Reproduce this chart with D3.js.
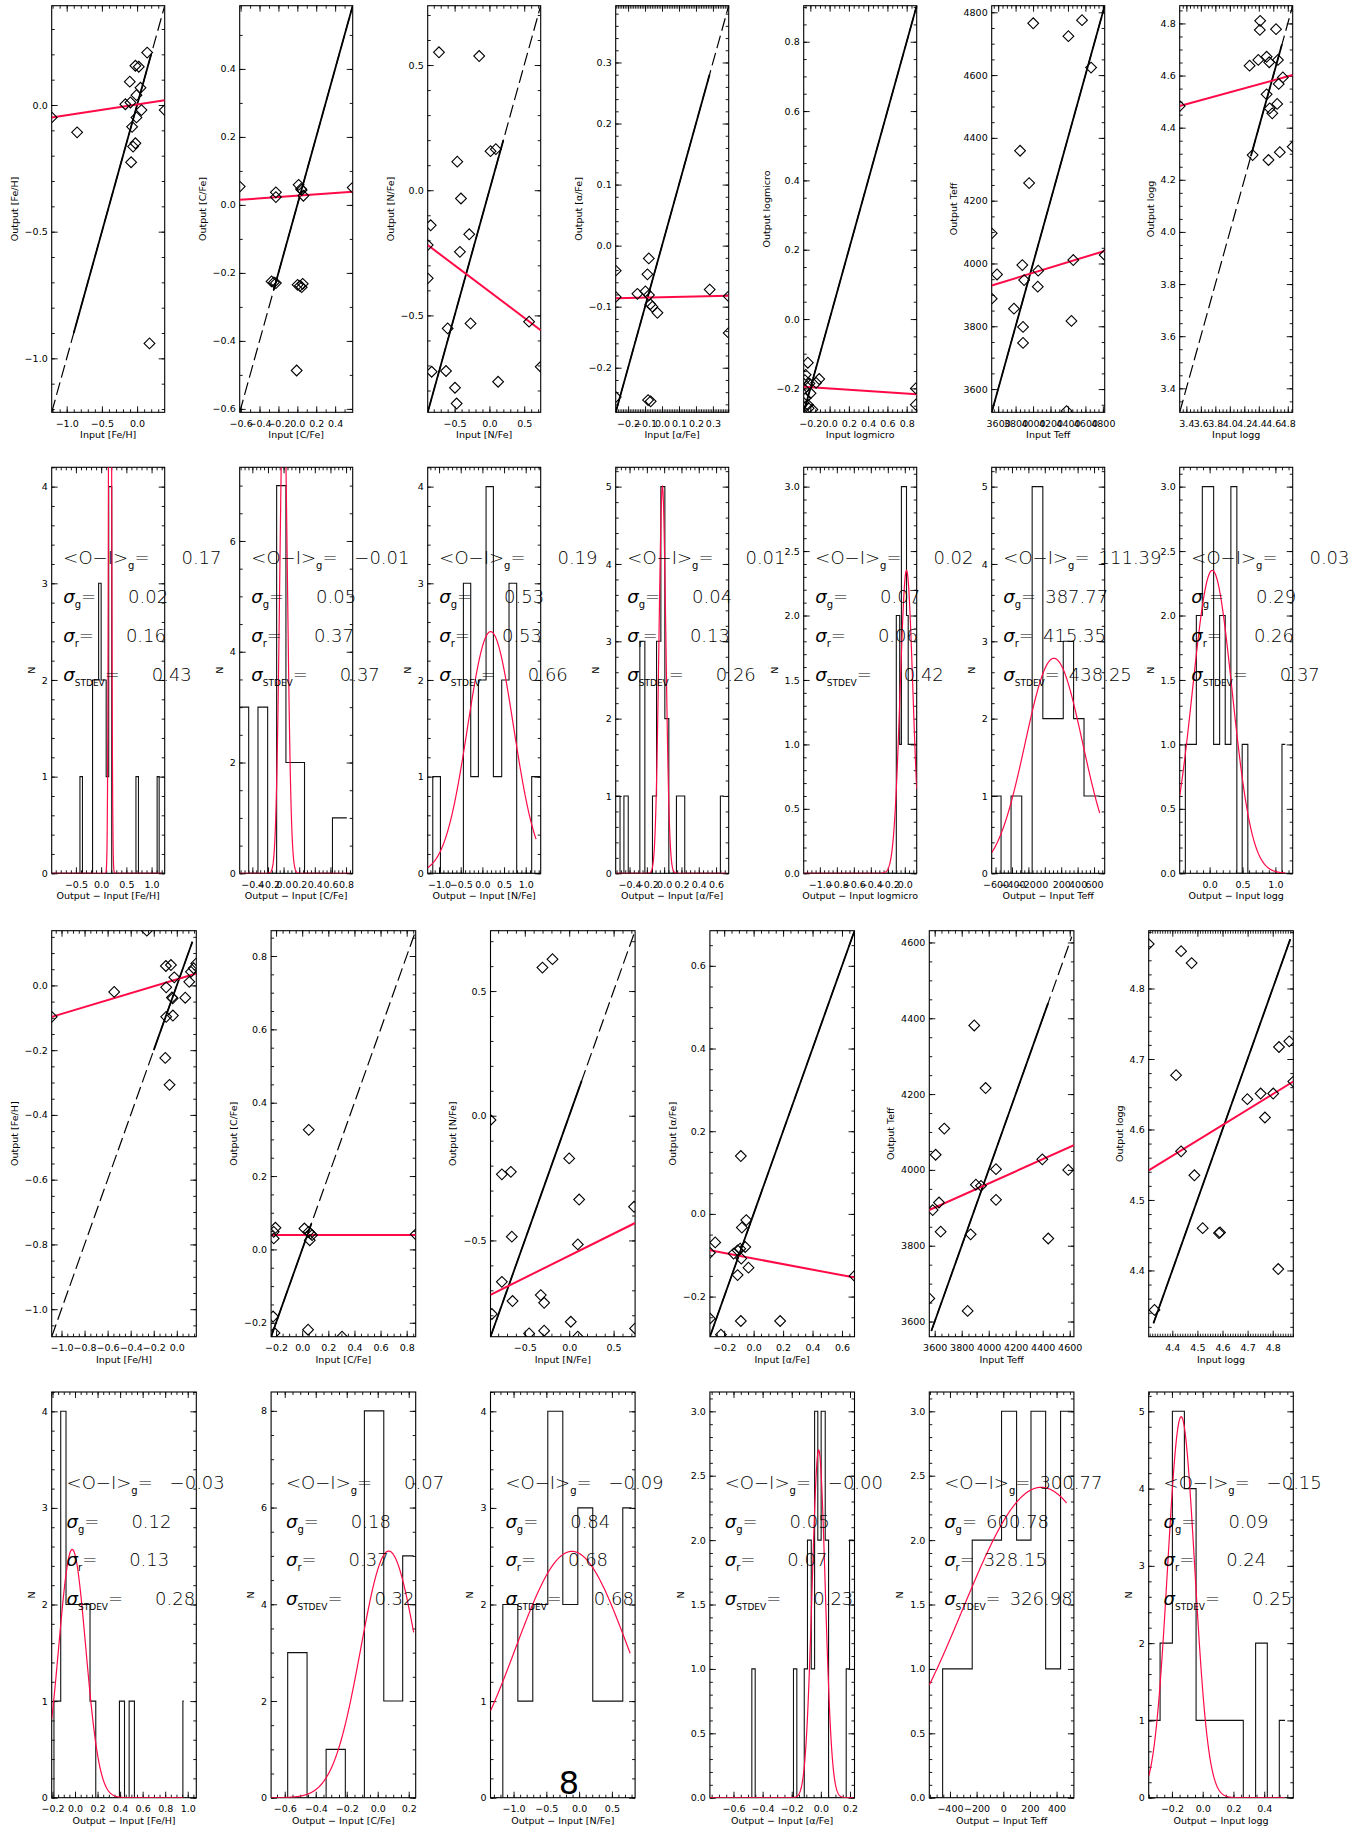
<!DOCTYPE html>
<html>
<head>
<meta charset="utf-8">
<script src="https://cdn.jsdelivr.net/npm/d3@7"></script>
<style>
  body { margin: 0; background: #fff; }
  svg text { font-family: 'DejaVu Sans', sans-serif; }
</style>
</head>
<body>
<svg id="fig" width="1351" height="1829"></svg>
<script>
// ---- parameter names
const row1Names = ['[Fe/H]', '[C/Fe]', '[N/Fe]', '[α/Fe]', 'logmicro', 'Teff', 'logg'];
const row3Names = ['[Fe/H]', '[C/Fe]', '[N/Fe]', '[α/Fe]', 'Teff', 'logg'];

// ---- row 1: input vs output scatter
const row1Range = [[-1.213, 0.392], [-0.61, 0.586], [-0.887, 0.737], [-0.273, 0.393], [-0.269, 0.904], [3526, 4821], [3.308, 4.868]];
const row1Input = [
  [0.143, -0.024, 0.024, -0.104, 0.048, -0.009, -0.167, -0.095, 0.062, 0.392, -1.213, -0.009, -0.071, -0.852, -0.024, -0.057, -0.085, 0.176],
  [-0.61, -0.227, -0.227, 0.014, 0.039, 0.046, 0.064, 0.586, -0.273, -0.248, -0.227, 0.003, 0.028, 0.057, 0.046, -0.007],
  [-0.725, -0.147, 0.016, 0.092, -0.462, -0.409, -0.844, -0.887, -0.290, -0.424, -0.887, -0.271, -0.600, 0.570, -0.830, -0.624, 0.737, 0.125, -0.495, -0.471],
  [-0.273, -0.273, -0.273, -0.078, -0.086, -0.145, -0.098, -0.077, -0.069, -0.057, -0.027, 0.281, 0.393, 0.393, -0.082, -0.067],
  [-0.226, -0.249, -0.257, -0.21, -0.108, -0.14, -0.238, -0.198, -0.249, -0.226, -0.218, 0.895, 0.895, -0.269, -0.179],
  [4002, 4405, 4561, 4665, 3851, 3955, 3526, 3587, 3877, 3898, 4059, 4054, 4461, 4821, 3526, 3781, 3885, 3885, 4440, 4384],
  [4.419, 4.414, 4.638, 4.273, 4.393, 4.508, 4.544, 4.664, 4.732, 4.675, 4.508, 4.654, 4.55, 4.586, 3.308, 4.315, 4.534, 4.690, 4.868]
];
const row1Output = [
  [0.207, 0.155, 0.151, 0.092, 0.068, 0.039, 0.003, 0.010, -0.020, -0.020, -0.049, -0.049, -0.086, -0.108, -0.151, -0.164, -0.226, -0.941],
  [0.054, 0.037, 0.023, 0.059, 0.047, 0.044, 0.027, 0.051, -0.225, -0.228, -0.230, -0.235, -0.238, -0.232, -0.242, -0.487],
  [0.551, 0.536, 0.156, 0.164, 0.114, -0.033, -0.140, -0.219, -0.176, -0.246, -0.352, -0.532, -0.552, -0.525, -0.725, -0.722, -0.705, -0.765, -0.789, -0.852],
  [-0.041, -0.084, -0.248, -0.021, -0.047, -0.079, -0.075, -0.081, -0.096, -0.100, -0.110, -0.072, -0.083, -0.143, -0.253, -0.255],
  [-0.126, -0.161, -0.176, -0.186, -0.173, -0.184, -0.195, -0.214, -0.228, -0.247, -0.257, -0.2, -0.247, -0.242, -0.261],
  [4765, 4724, 4775, 4624, 4359, 4256, 4096, 3965, 3995, 3947, 3977, 3926, 4011, 4027, 3888, 3856, 3798, 3747, 3817, 3530],
  [4.810, 4.775, 4.778, 4.638, 4.660, 4.672, 4.651, 4.660, 4.593, 4.568, 4.528, 4.491, 4.474, 4.455, 4.483, 4.295, 4.276, 4.306, 4.327]
];
// red fit: [intercept, slope]
const row1Fit = [[0.0021, 0.0421], [0.0272, 0.0201], [-0.4047, -0.2094], [-0.0844, 0.006], [-0.2, -0.0188], [3630.6, 0.0849], [4.2306, 0.0763]];
// one-to-one line: solid part and dashed part (x limits)
const row1Solid = [[-0.9, 0.2], [-0.25, 0.586], [-0.887, 0.2], [-0.273, 0.28], [-0.269, 0.904], [3526, 4821], [4.29, 4.72]];
const row1Dash = [[-1.213, 0.392], [-0.61, 0.586], [-0.887, 0.737], [-0.273, 0.393], [-0.269, 0.904], [3526, 4821], [3.308, 4.868]];
const row1Step = [0.5, 0.2, 0.5, 0.1, 0.2, 200, 0.2];
const row1Minor = [[5, 5], [2, 2], [5, 5], [10, 5], [4, 4], [4, 4], [4, 4]];

// ---- row 2: histograms of output - input
const row2XRange = [[-0.98, 1.26], [-0.562, 0.885], [-1.262, 1.346], [-0.56, 0.746], [-1.19, 0.14], [-647, 730], [-0.455, 1.263]];
const row2YTop = [4.2, 7.33, 4.2, 5.25, 3.15, 5.25, 3.15];
const row2Edges = [
  [-0.98, -0.42, -0.37, -0.17, -0.05, 0.0, 0.10, 0.15, 0.21, 0.69, 0.74, 1.11, 1.15, 1.26],
  [-0.562, -0.447, -0.328, -0.204, -0.089, 0.030, 0.268, 0.626, 0.809],
  [-1.262, -1.145, -0.968, -0.438, -0.269, -0.092, 0.085, 0.254, 0.446, 0.615, 0.792, 1.138, 1.346],
  [-0.56, -0.51, -0.465, -0.415, -0.281, -0.223, -0.135, -0.088, -0.038, 0.008, 0.054, 0.142, 0.238, 0.65, 0.69],
  [-1.19, -0.10, -0.06, -0.04, -0.02, 0.0, 0.02, 0.04, 0.09, 0.14],
  [-647, -533, -411, -281, -154, -24, 225, 351, 478, 669],
  [-0.455, -0.369, -0.202, -0.111, 0.061, 0.152, 0.237, 0.323, 0.414, 0.495, 0.581, 1.10, 1.15]
];
const row2Counts = [
  [0, 1, 0, 2, 3, 2, 1, 4, 0, 1, 0, 1, 0],
  [3, 0, 3, 0, 7, 2, 0, 1],
  [0, 1, 0, 3, 1, 2, 4, 1, 2, 3, 0, 1],
  [1, 0, 1, 0, 3, 0, 1, 3, 5, 2, 0, 1, 0, 1],
  [0, 2, 1, 3, 3, 3, 2, 1, 1],
  [1, 0, 1, 0, 5, 2, 3, 2, 1],
  [0, 1, 2, 3, 1, 2, 1, 3, 0, 1, 0, 1]
];
// gaussian fit: [mean, sigma, peak, x end]
const row2Gauss = [[0.177, 0.022, 12, 1.2], [0.0, 0.048, 9, 0.85], [0.19, 0.53, 2.5, 1.238], [-0.02, 0.04, 5.0, 0.72],
  [0.02, 0.075, 2.35, 0.14], [111, 350, 2.78, 669], [0.04, 0.3, 2.35, 1.15]];
const row2Stats = [
  ['0.17', '0.02', '0.16', '0.43'], ['−0.01', '0.05', '0.37', '0.37'], ['0.19', '0.53', '0.53', '0.66'],
  ['0.01', '0.04', '0.13', '0.26'], ['0.02', '0.07', '0.06', '0.42'], ['111.39', '387.77', '415.35', '438.25'],
  ['0.03', '0.29', '0.26', '0.37']
];
const row2XStep = [0.5, 0.2, 0.5, 0.2, 0.2, 200, 0.5];
const row2YStep = [1, 2, 1, 1, 0.5, 1, 0.5];
const row2Minor = [[5, 5], [4, 4], [5, 5], [4, 5], [4, 5], [4, 5], [5, 5]];

// ---- row 3: input vs output scatter (second set)
const row3Range = [[-1.085, 0.169], [-0.238, 0.869], [-0.886, 0.742], [-0.297, 0.685], [3560, 4631], [4.306, 4.882]];
const row3Input = [
  [-0.260, -0.543, -0.095, -0.051, -0.022, -0.092, -0.042, -0.036, 0.073, 0.108, 0.123, 0.146, 0.169, -0.092, -0.034, -0.100, -0.063, -1.085],
  [-0.205, -0.218, -0.218, 0.017, 0.050, 0.063, 0.076, 0.058, 0.050, 0.869, -0.223, -0.212, 0.045, 0.305],
  [-0.301, -0.188, -0.886, 0.0, -0.758, -0.657, 0.112, 0.73, -0.646, 0.097, -0.758, -0.638, -0.871, -0.320, -0.282, 0.018, -0.451, -0.282, 0.097, 0.742],
  [-0.087, -0.050, -0.080, -0.261, -0.297, -0.136, -0.109, -0.091, -0.057, -0.084, -0.035, -0.109, 0.685, -0.087, 0.180, -0.297, -0.222],
  [3893, 3977, 3671, 3607, 4397, 4589, 4054, 3905, 3943, 4054, 3632, 3585, 3644, 3866, 4441, 3560, 3844],
  [4.306, 4.435, 4.477, 4.415, 4.435, 4.488, 4.521, 4.586, 4.590, 4.699, 4.752, 4.802, 4.769, 4.825, 4.866, 4.882, 4.822, 4.329]
];
const row3Output = [
  [0.169, -0.020, 0.060, 0.063, 0.025, -0.006, -0.037, -0.040, -0.038, 0.011, 0.042, 0.053, 0.068, -0.097, -0.093, -0.224, -0.307, -0.097],
  [0.059, 0.048, 0.030, 0.057, 0.048, 0.043, 0.039, 0.025, 0.326, 0.041, -0.183, -0.228, -0.219, -0.238],
  [0.594, 0.628, -0.017, -0.171, -0.235, -0.225, -0.336, -0.365, -0.485, -0.516, -0.666, -0.743, -0.795, -0.719, -0.750, -0.826, -0.873, -0.862, -0.886, -0.853],
  [0.140, -0.015, -0.033, -0.069, -0.094, -0.096, -0.088, -0.084, -0.080, -0.108, -0.130, -0.148, -0.150, -0.259, -0.259, -0.253, -0.292],
  [4381, 4216, 4109, 4040, 4028, 4000, 4002, 3961, 3958, 3921, 3914, 3894, 3837, 3830, 3819, 3661, 3628],
  [4.863, 4.853, 4.836, 4.677, 4.569, 4.535, 4.460, 4.453, 4.454, 4.643, 4.651, 4.651, 4.617, 4.717, 4.725, 4.668, 4.402, 4.344]
];
const row3Fit = [[0.0189, 0.1069], [0.039, 0], [-0.5613, 0.1769], [-0.108, -0.0672], [3325.5, 0.1597], [3.6001, 0.21875]];
const row3Solid = [[-0.2, 0.135], [-0.238, 0.07], [-0.886, 0.14], [-0.297, 0.685], [3575, 4440], [4.325, 4.87]];
const row3Dash = [[-1.085, 0.135], [-0.238, 0.869], [-0.886, 0.742], [-0.297, 0.685], [3575, 4615], [4.325, 4.87]];
const row3Step = [0.2, 0.2, 0.5, 0.2, 200, 0.1];
const row3Minor = [[4, 4], [4, 4], [5, 5], [4, 4], [4, 4], [10, 5]];

// ---- row 4: histograms (second set)
const row4XRange = [[-0.207, 1.076], [-0.688, 0.245], [-1.352, 0.854], [-0.762, 0.231], [-555, 530], [-0.351, 0.589]];
const row4YTop = [4.2, 8.39, 4.2, 3.15, 3.15, 5.25];
const row4Edges = [
  [-0.207, -0.187, -0.127, -0.080, 0.133, 0.184, 0.394, 0.439, 0.480, 0.527, 0.957, 0.965],
  [-0.688, -0.581, -0.456, -0.333, -0.209, -0.086, 0.039, 0.161, 0.232],
  [-1.352, -1.164, -0.935, -0.707, -0.478, -0.249, -0.020, 0.208, 0.666, 0.80],
  [-0.762, -0.474, -0.451, -0.188, -0.165, -0.114, -0.092, -0.066, -0.043, -0.021, 0.002, 0.030, 0.053, 0.174, 0.197, 0.224],
  [-555, -455, -233, -13, 100, 208, 318, 430, 520],
  [-0.351, -0.277, -0.197, -0.119, -0.043, 0.264, 0.344, 0.420, 0.498, 0.535]
];
const row4Counts = [
  [0, 1, 4, 2, 1, 0, 1, 0, 1, 0, 1],
  [0, 3, 0, 1, 0, 8, 2, 5],
  [0, 2, 1, 2, 4, 2, 3, 1, 3],
  [0, 1, 0, 1, 0, 1, 2, 1, 3, 2, 3, 2, 0, 1, 2],
  [0, 1, 2, 3, 2, 3, 1, 3],
  [1, 2, 5, 4, 1, 0, 2, 0, 1]
];
const row4Gauss = [[-0.025, 0.12, 2.57, 0.96], [0.071, 0.18, 5.1, 0.232], [-0.11, 0.86, 2.55, 0.778], [-0.015, 0.045, 2.7, 0.224],
  [285, 590, 2.41, 475], [-0.14, 0.088, 4.93, 0.535]];
const row4Stats = [
  ['−0.03', '0.12', '0.13', '0.28'], ['0.07', '0.18', '0.37', '0.32'], ['−0.09', '0.84', '0.68', '0.68'],
  ['−0.00', '0.05', '0.07', '0.23'], ['300.77', '600.78', '328.15', '326.98'], ['−0.15', '0.09', '0.24', '0.25']
];
const row4XStep = [0.2, 0.2, 0.5, 0.2, 200, 0.2];
const row4YStep = [1, 2, 1, 0.5, 0.5, 1];
const row4Minor = [[4, 5], [4, 4], [5, 5], [4, 5], [4, 5], [4, 5]];

// ---- layout
const RED = '#ff0a47';
const topCols = { left: 51.7, pitch: 188, width: 113 };
const botCols = { left: 51.7, pitch: 219.4, width: 144.6 };
const rowTop = [5.7, 467.3, 930.7, 1392];
const rowH = [406.6, 406, 406, 405.7];
const TICK_FONT = 9.5;

const svg = d3.select('#fig');
let clipN = 0;

function ticksFor(dom, step) {
  const lo = Math.ceil(dom[0] / step - 1e-6), hi = Math.floor(dom[1] / step + 1e-6);
  return d3.range(lo, hi + 1).map((k) => +(k * step).toFixed(6));
}
const decimals = (s) => (s >= 1 ? 0 : 1);

function styleAxis(sel) {
  sel.selectAll('.domain').remove();
  sel.selectAll('line').attr('stroke', '#000').attr('stroke-width', 0.9);
  sel.selectAll('text').attr('font-size', TICK_FONT).attr('font-family', "'DejaVu Sans', sans-serif").attr('fill', '#000');
}

function axes(g, x, y, pw, ph, xs, ys, minor, xTitle, yTitle) {
  const xt = ticksFor(x.domain(), xs), yt = ticksFor(y.domain(), ys);
  const xm = ticksFor(x.domain(), xs / minor[0]), ym = ticksFor(y.domain(), ys / minor[1]);
  const fx = d3.format(`.${decimals(xs)}f`), fy = d3.format(`.${decimals(ys)}f`);

  // minor ticks on all four sides
  g.append('g').attr('transform', `translate(0,${ph})`).call(d3.axisBottom(x).tickValues(xm).tickSize(-3).tickFormat('')).call(styleAxis);
  g.append('g').call(d3.axisTop(x).tickValues(xm).tickSize(-3).tickFormat('')).call(styleAxis);
  g.append('g').call(d3.axisLeft(y).tickValues(ym).tickSize(-3).tickFormat('')).call(styleAxis);
  g.append('g').attr('transform', `translate(${pw},0)`).call(d3.axisRight(y).tickValues(ym).tickSize(-3).tickFormat('')).call(styleAxis);

  // major ticks
  g.append('g').attr('transform', `translate(0,${ph})`)
    .call(d3.axisBottom(x).tickValues(xt).tickSizeInner(-6).tickSizeOuter(0).tickPadding(7.5).tickFormat(fx)).call(styleAxis);
  g.append('g').call(d3.axisTop(x).tickValues(xt).tickSize(-6).tickFormat('')).call(styleAxis);
  const ly = g.append('g')
    .call(d3.axisLeft(y).tickValues(yt).tickSizeInner(-6).tickSizeOuter(0).tickPadding(4).tickFormat(fy)).call(styleAxis);
  g.append('g').attr('transform', `translate(${pw},0)`).call(d3.axisRight(y).tickValues(yt).tickSize(-6).tickFormat('')).call(styleAxis);

  g.append('rect').attr('width', pw).attr('height', ph).attr('fill', 'none').attr('stroke', '#000').attr('stroke-width', 1.1);

  g.append('text').attr('x', pw / 2).attr('y', ph + 26).attr('text-anchor', 'middle')
    .attr('font-size', TICK_FONT).text(xTitle);

  const maxW = d3.max(ly.selectAll('text').nodes(), (n) => n.getComputedTextLength()) || 0;
  g.append('text').attr('transform', `translate(${-(4 + maxW + 7)},${ph / 2}) rotate(-90)`)
    .attr('text-anchor', 'middle').attr('font-size', TICK_FONT).text(yTitle);
}

function clipGroup(g, pw, ph) {
  const id = 'clip' + (clipN++);
  g.append('clipPath').attr('id', id).append('rect').attr('width', pw).attr('height', ph);
  return g.append('g').attr('clip-path', `url(#${id})`);
}

const diamond = d3.symbol().type(d3.symbolSquare).size(58)();

function scatterPanel(px, py, pw, ph, dom, step, minor, xs, ys, fit, solid, dash, name) {
  const g = svg.append('g').attr('transform', `translate(${px},${py})`);
  const x = d3.scaleLinear().domain(dom).range([0, pw]);
  const y = d3.scaleLinear().domain(dom).range([ph, 0]);
  axes(g, x, y, pw, ph, step, step, minor, 'Input ' + name, 'Output ' + name);

  const plot = clipGroup(g, pw, ph);
  const one = d3.line().x((d) => x(d)).y((d) => y(d));
  plot.append('path').attr('d', one(dash)).attr('fill', 'none').attr('stroke', '#000')
    .attr('stroke-width', 1.2).attr('stroke-dasharray', '13,5');
  plot.append('path').attr('d', one(solid)).attr('fill', 'none').attr('stroke', '#000').attr('stroke-width', 1.8);

  const fitLine = d3.line().x((d) => x(d)).y((d) => y(fit[0] + fit[1] * d));
  plot.append('path').attr('d', fitLine(dom)).attr('fill', 'none').attr('stroke', RED).attr('stroke-width', 2);

  plot.selectAll('path.pt').data(d3.range(xs.length)).join('path').attr('class', 'pt')
    .attr('transform', (i) => `translate(${x(xs[i])},${y(ys[i])}) rotate(45)`)
    .attr('d', diamond).attr('fill', 'none').attr('stroke', '#000').attr('stroke-width', 1.1);
}

const statLabels = [['<O−I>', 'g', false], ['σ', 'g', true], ['σ', 'r', true], ['σ', 'STDEV', true]];

function histPanel(px, py, pw, ph, xdom, ytop, xs, ys, minor, edges, counts, gauss, stats, name) {
  const g = svg.append('g').attr('transform', `translate(${px},${py})`);
  const x = d3.scaleLinear().domain(xdom).range([0, pw]);
  const y = d3.scaleLinear().domain([0, ytop]).range([ph, 0]);
  axes(g, x, y, pw, ph, xs, ys, minor, 'Output − Input ' + name, 'N');

  const plot = clipGroup(g, pw, ph);
  const n = counts.length;
  const pts = edges.map((e, i) => [e, counts[Math.min(i, n - 1)]]);
  plot.append('path').attr('d', d3.line().x((d) => x(d[0])).y((d) => y(d[1])).curve(d3.curveStepAfter)(pts))
    .attr('fill', 'none').attr('stroke', '#111').attr('stroke-width', 1.1);

  const [mu, sig, amp, xEnd] = gauss;
  const gx = d3.range(0, 401).map((k) => xdom[0] + (xEnd - xdom[0]) * k / 400);
  plot.append('path')
    .attr('d', d3.line().x((d) => x(d)).y((d) => y(amp * Math.exp(-0.5 * ((d - mu) / sig) ** 2)))(gx))
    .attr('fill', 'none').attr('stroke', RED).attr('stroke-width', 1.2);

  // fit statistics
  const tx = pw * 0.103;
  statLabels.forEach(([main, sub, italic], i) => {
    const ty = ph * (0.239 + i * 0.0955);
    const t = g.append('text').attr('x', tx).attr('y', ty).attr('font-size', 18)
      .attr('font-weight', 200).attr('fill', '#000');
    t.append('tspan').attr('font-style', italic ? 'italic' : 'normal').text(main);
    t.append('tspan').attr('font-size', sub.length > 1 ? 9 : 10).attr('font-weight', 400).attr('dy', 5).text(sub);
    t.append('tspan').attr('dy', -5).text('=');
    const len = t.node().getComputedTextLength();
    g.append('text').attr('x', tx + len + 72).attr('y', ty).attr('text-anchor', 'end')
      .attr('font-size', 18).attr('font-weight', 200).attr('fill', '#000').text(stats[i]);
  });
}

// ---- draw
row1Names.forEach((nm, i) => {
  scatterPanel(topCols.left + i * topCols.pitch, rowTop[0], topCols.width, rowH[0], row1Range[i], row1Step[i], row1Minor[i],
    row1Input[i], row1Output[i], row1Fit[i], row1Solid[i], row1Dash[i], nm);
  histPanel(topCols.left + i * topCols.pitch, rowTop[1], topCols.width, rowH[1], row2XRange[i], row2YTop[i], row2XStep[i], row2YStep[i],
    row2Minor[i], row2Edges[i], row2Counts[i], row2Gauss[i], row2Stats[i], nm);
});
row3Names.forEach((nm, i) => {
  scatterPanel(botCols.left + i * botCols.pitch, rowTop[2], botCols.width, rowH[2], row3Range[i], row3Step[i], row3Minor[i],
    row3Input[i], row3Output[i], row3Fit[i], row3Solid[i], row3Dash[i], nm);
  histPanel(botCols.left + i * botCols.pitch, rowTop[3], botCols.width, rowH[3], row4XRange[i], row4YTop[i], row4XStep[i], row4YStep[i],
    row4Minor[i], row4Edges[i], row4Counts[i], row4Gauss[i], row4Stats[i], nm);
});

// page number
svg.append('text').attr('x', 569).attr('y', 1794).attr('text-anchor', 'middle')
  .attr('font-family', "'Liberation Serif', 'DejaVu Serif', serif").attr('font-size', 32).text('8');
</script>
</body>
</html>
